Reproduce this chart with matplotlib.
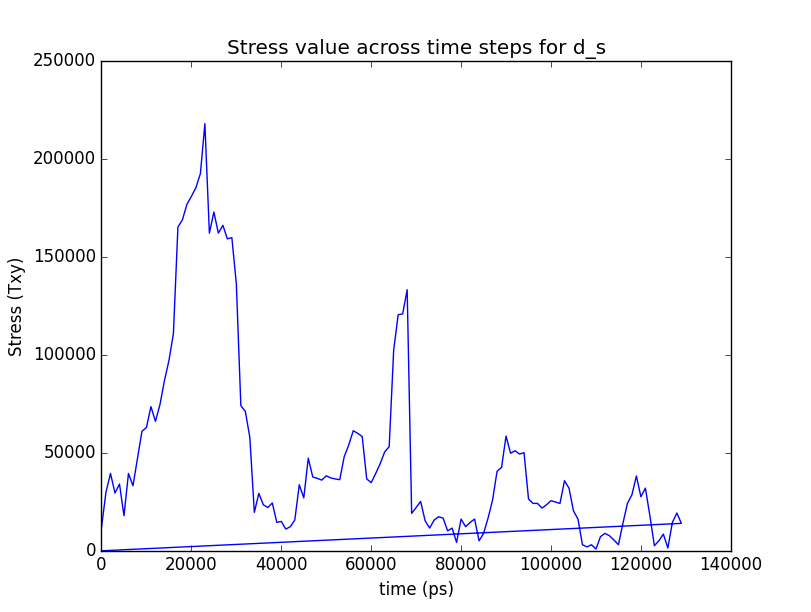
import matplotlib
matplotlib.use("Agg")
import matplotlib.pyplot as plt

# classic look (old matplotlib defaults)
plt.style.use("classic")

# time steps (ps), one sample every 1000 ps
time_ps = list(range(0, 130000, 1000))

# stress values
stress = [
    12000, 30000, 39500, 29500, 34100, 17900, 39500, 33200, 47000, 61000,
    63000, 73600, 66100, 74600, 86900, 97100, 111000, 165300, 169000, 176900,
    181000, 185400, 192600, 218100, 162200, 173000, 162200, 166200, 159300, 159900,
    136300, 74100, 71200, 57900, 19600, 29300, 23500, 22100, 24400, 14500,
    15000, 11100, 12300, 15700, 33700, 27000, 47300, 37700, 37000, 36100,
    38300, 37200, 36700, 36300, 48100, 54000, 61300, 60000, 58300, 36700,
    34800, 39500, 44500, 50500, 53200, 102500, 120500, 121000, 133300, 19100,
    22100, 25200, 15300, 11600, 15700, 17400, 16700, 10200, 11600, 4300,
    16200, 12300, 14500, 16200, 5100, 8900, 16700, 25900, 40600, 42600,
    58600, 49800, 51100, 49400, 50100, 26400, 24200, 24200, 21800, 23500,
    25600, 24900, 24200, 35800, 32000, 20400, 16200, 3100, 2000, 3100,
    900, 7200, 8900, 7700, 5500, 3100, 14000, 24200, 28600, 38200,
    27600, 32000, 17900, 2600, 5100, 8500, 1400, 14500, 19300, 14000,
]

# the series ends with a jump back to the origin
time_ps = time_ps + [0]
stress = stress + [0]

fig = plt.figure(figsize=(8.12, 6.12), dpi=100, facecolor="white")
ax = fig.add_subplot(111)
fig.subplots_adjust(left=0.125, right=0.9, bottom=0.1, top=0.9)

ax.plot(time_ps, stress, color="b", linewidth=1.0)

ax.set_xlim(0, 140000)
ax.set_ylim(0, 250000)
ax.set_title("Stress value across time steps for d_s")
ax.set_xlabel("time (ps)")
ax.set_ylabel("Stress (Txy)")

fig.savefig("out.png", dpi=100, facecolor="white")
